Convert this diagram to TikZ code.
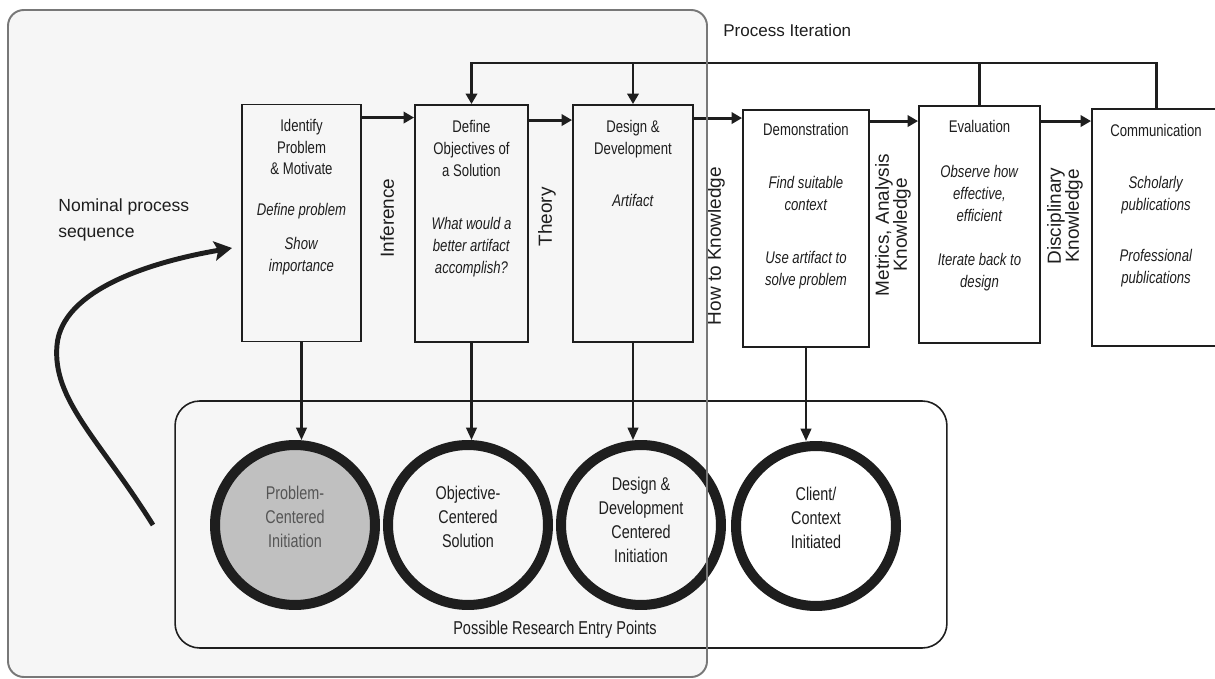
\documentclass[tikz,border=0pt]{standalone}
\usepackage{fontspec}
\setmainfont{Liberation Sans}
\newfontfamily\narrowfont{Liberation Sans}[FakeStretch=0.78]
\usetikzlibrary{arrows.meta, positioning, calc}
\definecolor{regionfill}{RGB}{246,246,246}
\definecolor{regionline}{RGB}{120,120,120}
\definecolor{inkcolor}{RGB}{30,30,30}
\definecolor{entryfill}{RGB}{192,192,192}
\definecolor{softtext}{RGB}{85,85,85}
\tikzset{
	procbox/.style={
		rectangle, draw=inkcolor, line width=1.1pt,
		minimum height=4.74cm, inner sep=0pt
	},
	boxtext/.style={
		align=center, inner sep=0pt, text=inkcolor,
		font=\narrowfont\fontsize{9.6}{12.5}\selectfont
	},
	flowlabel/.style={
		rotate=90, align=center, inner sep=0pt, text=inkcolor,
		font=\fontsize{10.8}{10.2}\selectfont
	},
	entrycircle/.style={
		circle, draw=inkcolor, line width=5.7pt, minimum size=3.2cm, inner sep=0pt
	},
	circletext/.style={
		align=center, inner sep=0pt, text=inkcolor,
		font=\narrowfont\fontsize{10.5}{13.7}\selectfont
	},
	arrow/.style={
		-{Triangle[length=6pt, width=6.5pt]}, line width=1.7pt, color=inkcolor
	},
	downarrow/.style={
		-{Triangle[length=7pt, width=6pt]}, line width=1.2pt, color=inkcolor
	},
	curvearrow/.style={
		-{Stealth[length=10pt, width=11pt, inset=2pt]}, line width=2.8pt, color=inkcolor
	},
	iterline/.style={line width=1.7pt, color=inkcolor},
	groupbox/.style={
		draw=inkcolor, rounded corners=14pt, line width=0.9pt
	}
}

\begin{document}
\begin{tikzpicture}[x=0.02cm, y=-0.02cm]
	\useasboundingbox (0,0) rectangle (1215,679);
	\fill[white] (0,0) rectangle (1215,679);
	
	%% shaded region behind the first three activities
	\fill[regionfill, rounded corners=9pt] (8,10) rectangle (707,677);
	
	%% ===============================
	%%  process activities
	%% ===============================
	\node[procbox, minimum width=2.38cm] (identify) at (301.5,223) {};
	\node[procbox, minimum width=2.26cm] (objectives) at (471.5,223.5) {};
	\node[procbox, minimum width=2.40cm] (design) at (633,223.5) {};
	\node[procbox, minimum width=2.52cm] (demo) at (806,228.5) {};
	\node[procbox, minimum width=2.42cm] (evaluation) at (979.5,224.5) {};
	\node[procbox, minimum width=2.56cm] (communication) at (1156,227.5) {};
	
	\node[boxtext, below=8.5pt of identify.north] (identifytxt)
	{Identify\\Problem\\\& Motivate\\[10.8pt]\textit{Define problem}\\[6.8pt]\textit{Show}\\\textit{importance}};
	\node[boxtext, below=9pt of objectives.north] (objectivestxt)
	{Define\\Objectives of\\a Solution\\[17.6pt]\textit{What would a}\\\textit{better artifact}\\\textit{accomplish?}};
	\node[boxtext, below=9pt of design.north] (designtxt)
	{Design \&\\Development\\[17pt]\textit{Artifact}};
	\node[boxtext, below=8pt of demo.north] (demotxt)
	{Demonstration\\[17.6pt]\textit{Find suitable}\\\textit{context}\\[17.6pt]\textit{Use artifact to}\\\textit{solve problem}};
	\node[boxtext, below=8.5pt of evaluation.north] (evaluationtxt)
	{Evaluation\\[13pt]\textit{Observe how}\\\textit{effective,}\\\textit{efficient}\\[12.5pt]\textit{Iterate back to}\\\textit{design}};
	\node[boxtext, below=9pt of communication.north] (communicationtxt)
	{Communication\\[17pt]\textit{Scholarly}\\\textit{publications}\\[16.5pt]\textit{Professional}\\\textit{publications}};
	
	%% labels between the activities
	\node[flowlabel] (inference) at (387,218) {Inference};
	\node[flowlabel] (theory) at (547,217) {Theory};
	\node[flowlabel] (howto) at (716,246) {How to Knowledge};
	\node[flowlabel] (metrics) at (893,225) {Metrics, Analysis\\Knowledge};
	\node[flowlabel] (disciplinary) at (1065,216) {Disciplinary\\Knowledge};
	
	\node[anchor=west, inner sep=0pt, font=\fontsize{9.7}{12}\selectfont, text=inkcolor]
	(iterlabel) at (723,30) {Process Iteration};
	
	%% ===============================
	%%  entry points
	%% ===============================
	\node[groupbox, minimum width=15.44cm, minimum height=4.94cm] (entrybox) at (561,524.5) {};
	\node[entrycircle, fill=entryfill] (problemc) at (295,525) {};
	\node[entrycircle] (objectivec) at (468,525) {};
	\node[entrycircle] (designc) at (641,525) {};
	\node[entrycircle] (clientc) at (816,526) {};
	\node[circletext, text=softtext] (problemtxt) at ([yshift=4.5pt]problemc.center) {Problem-\\Centered\\Initiation};
	\node[circletext] (objectivetxt) at ([yshift=4.5pt]objectivec.center) {Objective-\\Centered\\Solution};
	\node[circletext] (designctxt) at ([yshift=3pt]designc.center) {Design \&\\Development\\Centered\\Initiation};
	\node[circletext] (clienttxt) at ([yshift=4.5pt]clientc.center) {Client/\\Context\\Initiated};
	\node[inner sep=0pt, text=inkcolor, font=\narrowfont\fontsize{10.6}{12}\selectfont]
	(entrylabel) at (555,630) {Possible Research Entry Points};
	
	\node[anchor=north west, align=left, inner sep=0pt, text=inkcolor,
	font=\fontsize{10}{14.8}\selectfont] (nominal) at (58,198) {Nominal process\\sequence};
	
	%% ===============================
	%%  connectors
	%% ===============================
	% nominal sequence
	\path (identify.north east) ++(0,14) coordinate (f1);
	\draw[arrow] (f1) -- (f1 -| objectives.west);
	\path (objectives.north east) ++(0,16) coordinate (f2);
	\draw[arrow] (f2) -- (f2 -| design.west);
	\path (design.north east) ++(0,14) coordinate (f3);
	\draw[arrow] (f3) -- (f3 -| demo.west);
	\path (demo.north east) ++(0,12) coordinate (f4);
	\draw[arrow] (f4) -- (f4 -| evaluation.west);
	\path (evaluation.north east) ++(0,16) coordinate (f5);
	\draw[arrow] (f5) -- (f5 -| communication.west);
	
	% process iteration
	\coordinate (iter) at (0,63);
	\draw[arrow] (communication.north) |- (objectives.north |- iter) -- (objectives.north);
	\draw[iterline] (evaluation.north) -- (evaluation.north |- iter);
	\draw[arrow] (design.north |- iter) -- (design.north);
	
	% activities -> entry points
	\draw[downarrow] (identify.south) -- (identify.south |- problemc.north);
	\draw[downarrow] (objectives.south) -- (objectives.south |- objectivec.north);
	\draw[downarrow] (design.south) -- (design.south |- designc.north);
	\draw[downarrow] (demo.south) -- (demo.south |- clientc.north);
	
	% nominal process sequence
	\coordinate (nomstart) at (153,525);
	\coordinate (nomend) at (232,248);
	\draw[curvearrow] (nomstart) .. controls (100,440) and (52,400) .. (57,345)
	.. controls (62,290) and (150,262) .. (nomend);
	
	%% region outline on top
	\draw[regionline, line width=1.1pt, rounded corners=9pt] (8,10) rectangle (707,677);
\end{tikzpicture}
\end{document}
